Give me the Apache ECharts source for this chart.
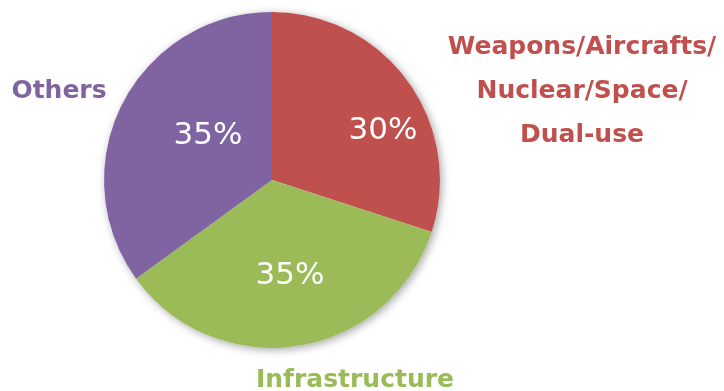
<!DOCTYPE html>
<html><head><meta charset="utf-8">
<script src="https://cdn.jsdelivr.net/npm/echarts@6/dist/echarts.min.js"></script>
<style>html,body{margin:0;padding:0;background:#fff}#c{width:724px;height:391px}</style>
</head><body><div id="c"></div>
<script>
const categories = ['Weapons/Aircrafts/\nNuclear/Space/\nDual-use', 'Infrastructure', 'Others'];
const values = [30, 35, 35];
const colors = ['#C0504D', '#9BBB59', '#8064A2'];
const pctLabels = ['30%', '35%', '35%'];

const chart = echarts.init(document.getElementById('c'));
const insidePos = [[383, 131], [290, 276], [208, 136]];
const outsidePos = [[582, 91, 'center'], [355, 380, 'center'], [59, 91, 'center']];
const font = 'DejaVu Sans, Verdana, sans-serif';
const center = [272, 180], R = 168;
chart.setOption({
  animation: false,
  series: [{
    type: 'pie', silent: true, center, radius: [0, R], z: 1,
    itemStyle: {color: '#fff', shadowBlur: 8, shadowColor: 'rgba(0,0,0,0.35)', shadowOffsetX: 2, shadowOffsetY: 2},
    label: {show: false}, labelLine: {show: false},
    data: [{value: values.reduce((a, b) => a + b, 0)}]
  }, {
    type: 'pie',
    center, radius: [0, R], z: 2,
    startAngle: 90,
    clockwise: true,
    label: {show: true, position: 'inside', color: '#fff', fontSize: 31, fontFamily: font,
      formatter: p => pctLabels[p.dataIndex]},
    labelLine: {show: false},
    labelLayout: p => ({x: insidePos[p.dataIndex][0], y: insidePos[p.dataIndex][1], align: 'center', verticalAlign: 'middle'}),
    data: categories.map((n, i) => ({name: n, value: values[i], itemStyle: {color: colors[i]}}))
  }],
  graphic: categories.map((n, i) => ({
    type: 'text',
    x: outsidePos[i][0], y: outsidePos[i][1],
    style: {text: n, fill: colors[i], font: 'bold 25px ' + font, align: 'center', verticalAlign: 'middle', lineHeight: 44}
  }))
});
</script></body></html>
